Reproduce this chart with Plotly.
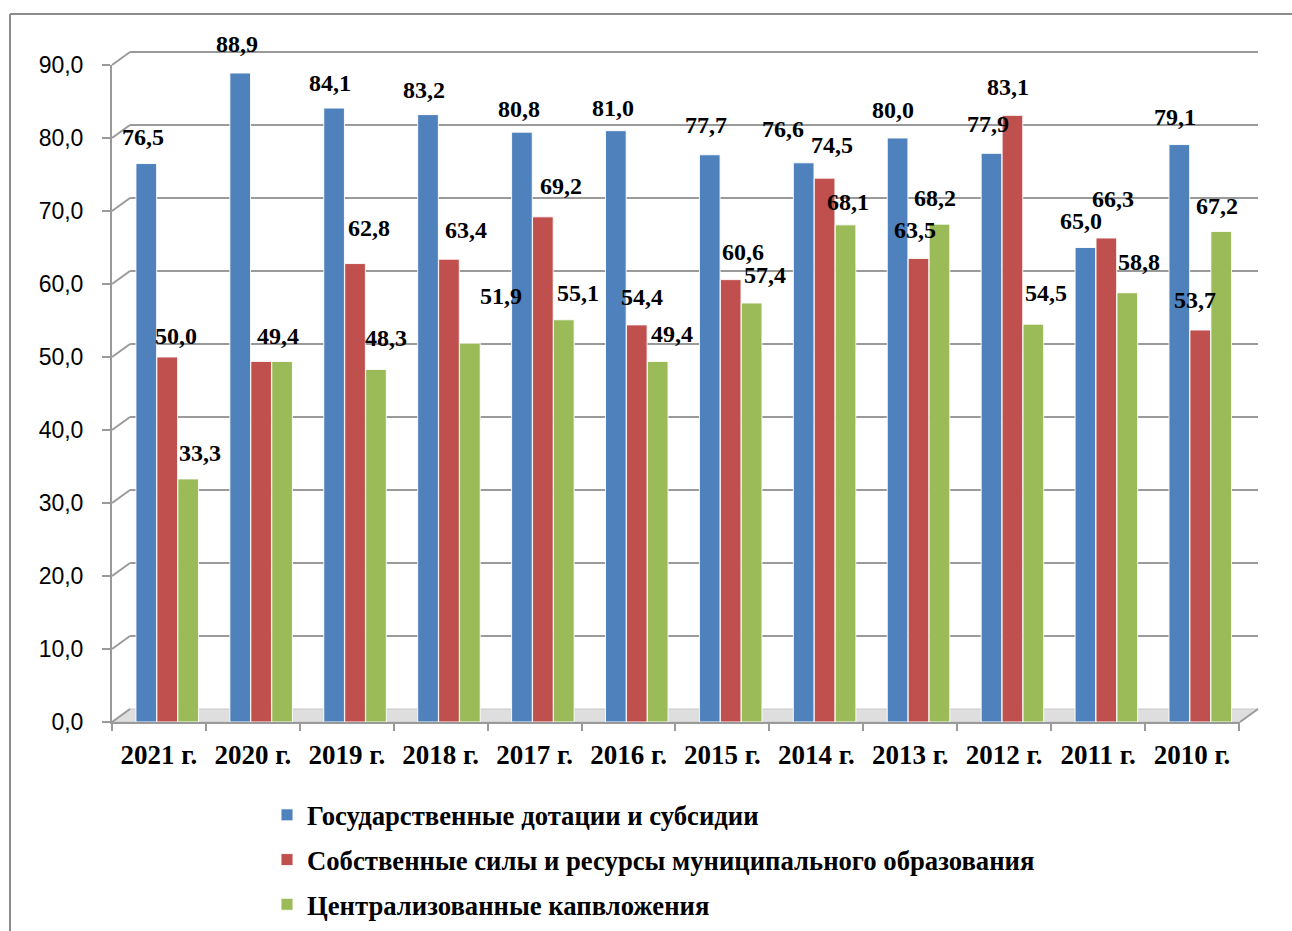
import plotly.graph_objects as go

categories = ["2021 г.", "2020 г.", "2019 г.", "2018 г.", "2017 г.", "2016 г.",
              "2015 г.", "2014 г.", "2013 г.", "2012 г.", "2011 г.", "2010 г."]
gos_dotacii = [76.5, 88.9, 84.1, 83.2, 80.8, 81.0, 77.7, 76.6, 80.0, 77.9, 65.0, 79.1]
sobstv_sily = [50.0, 49.4, 62.8, 63.4, 69.2, 54.4, 60.6, 74.5, 63.5, 83.1, 66.3, 53.7]
centr_kapvl = [33.3, 49.4, 48.3, 51.9, 55.1, 49.4, 57.4, 68.1, 68.2, 54.5, 58.8, 67.2]
series_names = ["Государственные дотации и субсидии",
                "Собственные силы и ресурсы муниципального образования",
                "Централизованные капвложения"]
y_ticks = [0, 10, 20, 30, 40, 50, 60, 70, 80, 90]

# label placement (pixel offsets from category centre / bar top), styling only
label_dx = [
    [-16, -16, -17, -17, -16, -16, -16, -33, -17, -16, -17, -17],
    [17, None, 22, 25, 26, 13, 21, 16, 5, 4, 15, 3],
    [41, 25, 39, 60, 43, 43, 43, 32, 25, 42, 41, 25],
]
label_dy = [
    [27, 29, 25, 25, 23, 23, 30, 34, 28, 29, 27, 28],
    [21, 0, 36, 29, 31, 28, 28, 33, 28, 28, 39, 30],
    [26, 25, 31, 47, 27, 27, 28, 23, 26, 31, 31, 25],
]

W, H = 1292, 931
L, R = 112, 1240          # plot area in pixels
T, B = 65, 722
colors = ["#4F81BD", "#C0504D", "#9BBB59"]
offsets = [-0.245, -0.022, 0.201]
bar_w = 0.22

def px(x):
    return (x - L) / (R - L)

def py(y):
    return (B - y) / (B - T)

series = [gos_dotacii, sobstv_sily, centr_kapvl]
fig = go.Figure()
for vals, name, col, off in zip(series, series_names, colors, offsets):
    fig.add_trace(go.Bar(
        x=categories, y=vals, name=name,
        marker=dict(color=col, line=dict(color="rgba(255,255,255,0.9)", width=1)),
        width=bar_w, offset=off, cliponaxis=False,
        legendgroup=name,
    ))

label_font = dict(family="Liberation Serif", size=24, color="black", weight="bold")
annotations = []
for si, vals in enumerate(series):
    for ci, v in enumerate(vals):
        dx = label_dx[si][ci]
        if dx is None:
            continue
        annotations.append(dict(
            x=categories[ci], y=v, xref="x", yref="y",
            text=f"{v:.1f}".replace(".", ","), showarrow=False,
            xanchor="center", yanchor="middle",
            xshift=dx, yshift=label_dy[si][ci], font=label_font,
        ))

shapes = []
grid_col = "#9a9a9a"
depth_dx, depth_dy = 18, 13
# floor
shapes.append(dict(type="path", xref="paper", yref="paper", layer="below",
                   path=f"M {px(L)} {py(B)} L {px(R)} {py(B)} L {px(R+depth_dx)} {py(B-depth_dy)} L {px(L+depth_dx)} {py(B-depth_dy)} Z",
                   fillcolor="#dedede", line=dict(color="#c8c8c8", width=1)))
# back gridlines and depth connectors
for v in y_ticks[1:]:
    yf = B - v * (B - T) / 90
    shapes.append(dict(type="line", xref="paper", yref="paper", layer="below",
                       x0=px(L + depth_dx), x1=px(R + depth_dx), y0=py(yf - depth_dy), y1=py(yf - depth_dy),
                       line=dict(color=grid_col, width=2)))
for v in y_ticks:
    yf = B - v * (B - T) / 90
    shapes.append(dict(type="line", xref="paper", yref="paper", layer="below",
                       x0=px(L), x1=px(L + depth_dx), y0=py(yf), y1=py(yf - depth_dy),
                       line=dict(color=grid_col, width=2)))
# right floor edge
shapes.append(dict(type="line", xref="paper", yref="paper", layer="below",
                   x0=px(R), x1=px(R + depth_dx), y0=py(B), y1=py(B - depth_dy),
                   line=dict(color=grid_col, width=2)))
# outer frame (top and left)
shapes.append(dict(type="line", xref="paper", yref="paper",
                   x0=px(10), x1=px(W + 5), y0=py(14), y1=py(14),
                   line=dict(color="#8c8c8c", width=2)))
shapes.append(dict(type="line", xref="paper", yref="paper",
                   x0=px(10), x1=px(10), y0=py(14), y1=py(H + 5),
                   line=dict(color="#8c8c8c", width=2)))

fig.update_layout(
    width=W, height=H,
    margin=dict(l=L, r=W - R, t=T, b=H - B, autoexpand=False),
    paper_bgcolor="white", plot_bgcolor="rgba(0,0,0,0)",
    barmode="overlay",
    separators=", ",
    showlegend=True,
    legend=dict(x=px(267), xanchor="left", y=py(791), yanchor="top",
                font=dict(family="Liberation Serif", size=26.7, color="black", weight="bold"),
                tracegroupgap=7, itemwidth=30, bgcolor="rgba(0,0,0,0)"),
    xaxis=dict(type="category", showgrid=False, showline=True, linecolor=grid_col, linewidth=2,
               ticks="outside", tickson="boundaries", ticklen=7, tickcolor=grid_col, tickwidth=2,
               tickfont=dict(family="Liberation Serif", size=27, color="black", weight="bold"),
               ticklabelstandoff=8, zeroline=False),
    yaxis=dict(range=[0, 90], tickvals=y_ticks, tickformat=".1f", showgrid=False,
               showline=True, linecolor=grid_col, linewidth=2,
               ticks="outside", ticklen=8, tickcolor=grid_col, tickwidth=2,
               tickfont=dict(family="Liberation Sans", size=23, color="black"),
               ticklabelstandoff=14, zeroline=False),
    shapes=shapes,
    annotations=annotations,
)

fig.write_html("out.html", config={"displayModeBar": False},
               post_script="document.body.style.margin='0px';")
